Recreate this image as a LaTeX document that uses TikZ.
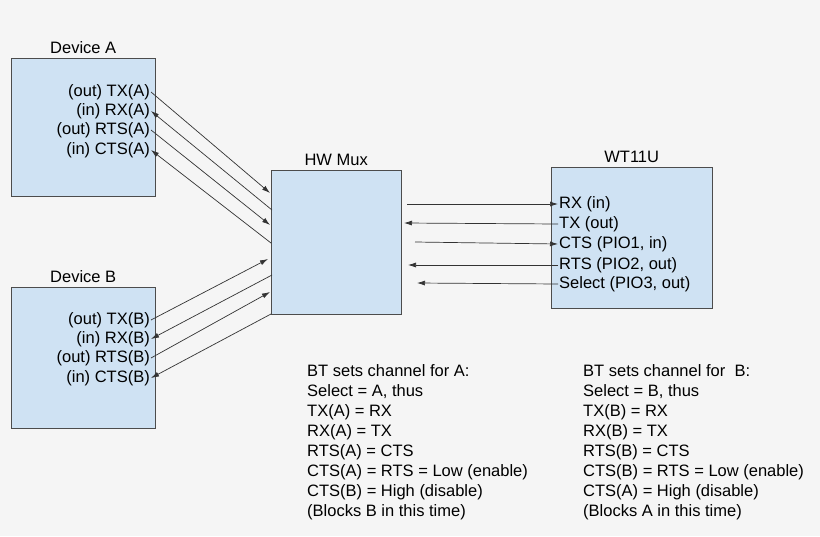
\documentclass[tikz,border=0pt]{standalone}
\usepackage{fontspec}
\setmainfont{Liberation Sans}
\usetikzlibrary{arrows.meta}
\definecolor{bgray}{HTML}{F5F5F5}
\definecolor{boxblue}{HTML}{CFE2F3}
\tikzset{
  block/.style={draw=black!70, fill=boxblue, anchor=north west, inner sep=0pt},
  title/.style={font=\fontsize{16.5}{18}\selectfont},
  pin/.style={font=\fontsize{16.5}{18}\selectfont, inner sep=1pt},
  sig/.style={draw=black!80, line width=0.7pt, -{Latex[length=8pt,width=5pt]}},
  note/.style={font=\fontsize{16.5}{20}\selectfont, align=left, anchor=north west, inner sep=0pt}
}
\begin{document}
\begin{tikzpicture}[x=1pt,y=-1pt]
\fill[bgray] (0,0) rectangle (820,536);
\useasboundingbox (0,0) rectangle (820,536);

% boxes
\node (devA) [block, minimum width=144pt, minimum height=138pt] at (11,58) {};
\node (devB) [block, minimum width=144pt, minimum height=141pt] at (11,287) {};
\node (mux)  [block, minimum width=130pt, minimum height=144pt] at (271,170) {};
\node (wt)   [block, minimum width=161pt, minimum height=141pt] at (551,167) {};

\node [title, above=1pt] at (devA.north) {Device A};
\node [title, above=1pt] at (devB.north) {Device B};
\node [title, above=1pt] at (mux.north) {HW Mux};
\node [title, above=1pt] at (wt.north) {WT11U};

% device A pins
\node (txA)  [pin, anchor=east] at (151,92)  {(out) TX(A)};
\node (rxA)  [pin, anchor=east] at (151,111) {(in) RX(A)};
\node (rtsA) [pin, anchor=east] at (151,130) {(out) RTS(A)};
\node (ctsA) [pin, anchor=east] at (151,150) {(in) CTS(A)};
% device B pins
\node (txB)  [pin, anchor=east] at (151,320) {(out) TX(B)};
\node (rxB)  [pin, anchor=east] at (151,339) {(in) RX(B)};
\node (rtsB) [pin, anchor=east] at (151,358) {(out) RTS(B)};
\node (ctsB) [pin, anchor=east] at (151,378) {(in) CTS(B)};
% WT11U pins
\node (rx)  [pin, anchor=west] at (558,204) {RX (in)};
\node (tx)  [pin, anchor=west] at (558,224) {TX (out)};
\node (cts) [pin, anchor=west] at (558,244) {CTS (PIO1, in)};
\node (rts) [pin, anchor=west] at (558,265) {RTS (PIO2, out)};
\node (sel) [pin, anchor=west] at (558,284) {Select (PIO3, out)};

% end points on the mux
\coordinate (m1) at (270,193);
\coordinate (m2) at (272,210);
\coordinate (m3) at (270,225);
\coordinate (m4) at (271,243);
\coordinate (m5) at (268,259);
\coordinate (m6) at (272,275);
\coordinate (m7) at (270,292);
\coordinate (m8) at (271,314);
\coordinate (r1) at (407,204);
\coordinate (r2) at (404,223);
\coordinate (r3) at (415,242);
\coordinate (r4) at (408,265);
\coordinate (r5) at (417,283);

\draw [sig] (txA.east)  -- (m1);
\draw [sig] (m2) -- (rxA.east);
\draw [sig] (rtsA.east) -- (m3);
\draw [sig] (m4) -- (ctsA.east);
\draw [sig] (txB.east)  -- (m5);
\draw [sig] (m6) -- (rxB.east);
\draw [sig] (rtsB.east) -- (m7);
\draw [sig] (m8) -- (ctsB.east);

\draw [sig] (r1) -- (rx.west);
\draw [sig] (tx.west) -- (r2);
\draw [sig] (r3) -- (cts.west);
\draw [sig] (rts.west) -- (r4);
\draw [sig] (sel.west) -- (r5);

% notes
\node (noteA) [note] at (307,364) {BT sets channel for A:\\Select = A, thus\\TX(A) = RX\\RX(A) = TX\\RTS(A) = CTS\\CTS(A) = RTS = Low (enable)\\CTS(B) = High (disable)\\(Blocks B in this time)};
\node (noteB) [note] at (583,364) {BT sets channel for \ B:\\Select = B, thus\\TX(B) = RX\\RX(B) = TX\\RTS(B) = CTS\\CTS(B) = RTS = Low (enable)\\CTS(A) = High (disable)\\(Blocks A in this time)};
\end{tikzpicture}
\end{document}
